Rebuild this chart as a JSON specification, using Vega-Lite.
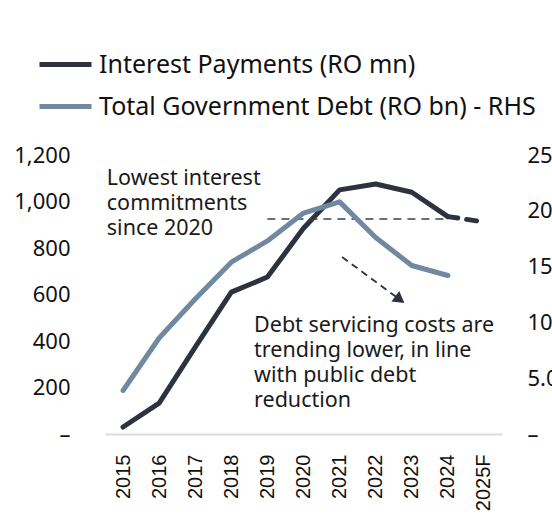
{
  "$schema": "https://vega.github.io/schema/vega-lite/v6.json",
  "width": 397,
  "height": 279,
  "autosize": {"type": "none"},
  "padding": {"left": 105, "top": 155, "right": 50, "bottom": 88},
  "background": "white",
  "config": {
    "view": {"stroke": null},
    "font": "Noto Sans",
    "text": {"font": "Noto Sans", "color": "#1a1a1a"},
    "axisX": {
      "title": null,
      "labelAngle": 270,
      "labelFont": "Liberation Sans",
      "labelFontSize": 20,
      "labelColor": "#111111",
      "labelPadding": 20,
      "labelOverlap": false,
      "labelBound": false,
      "ticks": false,
      "grid": false,
      "domainColor": "#dddddd",
      "domainWidth": 2
    }
  },
  "datasets": {
    "series": [
      {"year": 2015, "series": "Interest Payments (RO mn)", "value": 30},
      {"year": 2016, "series": "Interest Payments (RO mn)", "value": 133},
      {"year": 2017, "series": "Interest Payments (RO mn)", "value": 374},
      {"year": 2018, "series": "Interest Payments (RO mn)", "value": 610},
      {"year": 2019, "series": "Interest Payments (RO mn)", "value": 675},
      {"year": 2020, "series": "Interest Payments (RO mn)", "value": 885},
      {"year": 2021, "series": "Interest Payments (RO mn)", "value": 1050},
      {"year": 2022, "series": "Interest Payments (RO mn)", "value": 1075},
      {"year": 2023, "series": "Interest Payments (RO mn)", "value": 1040},
      {"year": 2024, "series": "Interest Payments (RO mn)", "value": 935},
      {"year": 2025, "series": "Interest Payments (RO mn)", "value": 912},
      {"year": 2015, "series": "Total Government Debt (RO bn) - RHS", "value": 3.9},
      {"year": 2016, "series": "Total Government Debt (RO bn) - RHS", "value": 8.6},
      {"year": 2017, "series": "Total Government Debt (RO bn) - RHS", "value": 12.1},
      {"year": 2018, "series": "Total Government Debt (RO bn) - RHS", "value": 15.4},
      {"year": 2019, "series": "Total Government Debt (RO bn) - RHS", "value": 17.3},
      {"year": 2020, "series": "Total Government Debt (RO bn) - RHS", "value": 19.8},
      {"year": 2021, "series": "Total Government Debt (RO bn) - RHS", "value": 20.8},
      {"year": 2022, "series": "Total Government Debt (RO bn) - RHS", "value": 17.6},
      {"year": 2023, "series": "Total Government Debt (RO bn) - RHS", "value": 15.1},
      {"year": 2024, "series": "Total Government Debt (RO bn) - RHS", "value": 14.2}
    ],
    "reference": [
      {"from": 2019, "to": 2024, "level": 925}
    ],
    "arrow": [
      {"x1": 2021.07, "y1": 761, "x2": 2022.67, "y2": 578}
    ],
    "notes": [
      {"year": 2014.55, "level": 1143, "note": "Lowest interest\ncommitments\nsince 2020"},
      {"year": 2018.63, "level": 512, "note": "Debt servicing costs are\ntrending lower, in line\nwith public debt\nreduction"}
    ]
  },
  "resolve": {"scale": {"y": "independent"}},
  "encoding": {
    "x": {
      "field": "year",
      "type": "quantitative",
      "scale": {"domain": [2014.5, 2025.5], "nice": false, "zero": false},
      "axis": {
        "values": [2015, 2016, 2017, 2018, 2019, 2020, 2021, 2022, 2023, 2024, 2025],
        "labelExpr": "datum.value === 2025 ? '2025F' : '' + datum.value",
        "labelOverlap": false
      }
    }
  },
  "layer": [
    {
      "layer": [
        {
          "data": {"name": "series"},
          "transform": [
            {"filter": "datum.series === 'Interest Payments (RO mn)' && datum.year <= 2024"}
          ],
          "mark": {"type": "line", "strokeWidth": 5, "strokeCap": "round", "strokeJoin": "round"},
          "encoding": {
            "y": {
              "field": "value",
              "type": "quantitative",
              "scale": {"domain": [0, 1200], "nice": false},
              "axis": {
                "title": null,
                "orient": "left",
                "values": [0, 200, 400, 600, 800, 1000, 1200],
                "labelExpr": "datum.value === 0 ? '–' : format(datum.value, ',')",
                "labelFontSize": 22,
                "labelColor": "#111111",
                "labelPadding": 35,
                "ticks": false,
                "domain": false,
                "grid": false
              }
            },
            "color": {
              "field": "series",
              "type": "nominal",
              "scale": {
                "domain": ["Interest Payments (RO mn)", "Total Government Debt (RO bn) - RHS"],
                "range": ["#2d333e", "#7088a0"]
              },
              "legend": {
                "title": null,
                "orient": "none",
                "legendX": -68,
                "legendY": -119,
                "direction": "vertical",
                "symbolType": "stroke",
                "symbolSize": 2704,
                "symbolStrokeWidth": 5,
                "labelFontSize": 25,
                "labelColor": "#111111",
                "labelOffset": 5,
                "rowPadding": -8,
                "labelLimit": 600
              }
            }
          }
        },
        {
          "data": {"name": "series"},
          "transform": [
            {"filter": "datum.series === 'Interest Payments (RO mn)' && datum.year >= 2024"}
          ],
          "mark": {"type": "line", "strokeWidth": 5, "strokeCap": "round", "strokeDash": [10, 9], "color": "#2d333e"},
          "encoding": {
            "y": {"field": "value", "type": "quantitative"}
          }
        },
        {
          "data": {"name": "reference"},
          "mark": {"type": "rule", "strokeWidth": 1.5, "strokeDash": [8, 6], "color": "#3a3f48"},
          "encoding": {
            "x": {"field": "from", "type": "quantitative"},
            "x2": {"field": "to"},
            "y": {"field": "level", "type": "quantitative"}
          }
        },
        {
          "data": {"name": "arrow"},
          "mark": {"type": "rule", "strokeWidth": 1.8, "strokeDash": [7, 5], "color": "#2d333e"},
          "encoding": {
            "x": {"field": "x1", "type": "quantitative"},
            "x2": {"field": "x2"},
            "y": {"field": "y1", "type": "quantitative"},
            "y2": {"field": "y2"}
          }
        },
        {
          "data": {"name": "arrow"},
          "mark": {"type": "point", "shape": "triangle-right", "filled": true, "size": 170, "angle": 37, "color": "#2d333e", "opacity": 1},
          "encoding": {
            "x": {"field": "x2", "type": "quantitative"},
            "y": {"field": "y2", "type": "quantitative"}
          }
        },
        {
          "data": {"name": "notes"},
          "mark": {"type": "text", "align": "left", "baseline": "top", "fontSize": 21.5, "lineHeight": 25, "lineBreak": "\n", "color": "#1a1a1a"},
          "encoding": {
            "x": {"field": "year", "type": "quantitative"},
            "y": {"field": "level", "type": "quantitative"},
            "text": {"field": "note"}
          }
        }
      ]
    },
    {
      "data": {"name": "series"},
      "transform": [
        {"filter": "datum.series === 'Total Government Debt (RO bn) - RHS'"}
      ],
      "mark": {"type": "line", "strokeWidth": 5, "strokeCap": "round", "strokeJoin": "round"},
      "encoding": {
        "y": {
          "field": "value",
          "type": "quantitative",
          "scale": {"domain": [0, 25], "nice": false},
          "axis": {
            "title": null,
            "orient": "right",
            "values": [0, 5, 10, 15, 20, 25],
            "labelExpr": "datum.value === 0 ? '–' : format(datum.value, '.1f')",
            "labelFontSize": 22,
            "labelColor": "#111111",
            "labelPadding": 25,
            "ticks": false,
            "domain": false,
            "grid": false
          }
        },
        "color": {"field": "series", "type": "nominal"}
      }
    }
  ]
}
